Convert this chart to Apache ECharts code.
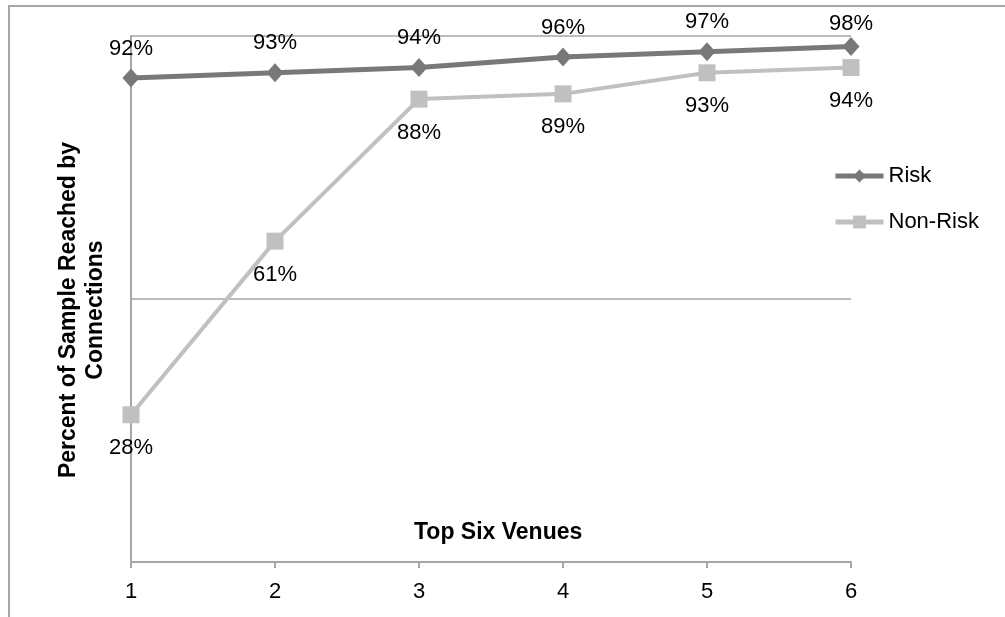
<!DOCTYPE html>
<html>
<head>
<meta charset="utf-8">
<script src="https://cdn.jsdelivr.net/npm/echarts@6/dist/echarts.min.js"></script>
<style>html,body{margin:0;padding:0;background:#fff}#c{width:1005px;height:617px}</style>
</head>
<body>
<div id="c"></div>
<script>
const categories = ['1', '2', '3', '4', '5', '6'];
const riskValues = [92, 93, 94, 96, 97, 98];
const nonRiskValues = [28, 61, 88, 89, 93, 94];
const seriesNames = ['Risk', 'Non-Risk'];
const xTitle = 'Top Six Venues';
const yTitle = 'Percent of Sample Reached by\nConnections';

const FONT = '"Liberation Sans", Arial, sans-serif';
const chart = echarts.init(document.getElementById('c'), null, {renderer: 'canvas'});

const riskData = riskValues.map((v, i) => i === riskValues.length - 1
  ? {value: v, label: {distance: 2}} : v);

chart.setOption({
  animation: false,
  backgroundColor: '#fff',
  grid: {left: 131, right: 154, top: 36, bottom: 55},
  legend: {
    orient: 'vertical',
    left: 833, top: 165, padding: 0,
    itemWidth: 48, itemHeight: 16, itemGap: 24,
    textStyle: {fontFamily: FONT, fontSize: 22, color: '#000'},
    lineStyle: {width: 5},
    data: [
      {name: seriesNames[0], lineStyle: {width: 5, color: '#787878'}},
      {name: seriesNames[1], lineStyle: {width: 5, color: '#c0c0c0'}}
    ]
  },
  xAxis: {
    type: 'category', data: categories, boundaryGap: false,
    axisLine: {lineStyle: {color: '#a6a6a6', width: 2}},
    axisTick: {show: true, length: 6, lineStyle: {color: '#a6a6a6', width: 2}},
    axisLabel: {fontFamily: FONT, fontSize: 22, color: '#000', margin: 19},
    splitLine: {show: false}
  },
  yAxis: {
    type: 'value', min: 0, max: 100, interval: 50,
    axisLine: {show: true, lineStyle: {color: '#a6a6a6', width: 2}},
    axisTick: {show: false},
    axisLabel: {show: false},
    splitLine: {show: true, lineStyle: {color: '#a6a6a6', width: 1.5}}
  },
  graphic: [
    {type: 'rect', shape: {x: 9, y: 6, width: 1100, height: 700}, style: {fill: 'none', stroke: '#a6a6a6', lineWidth: 2}, silent: true},
    {type: 'text', left: 414, top: 521, style: {text: xTitle, font: 'bold 23px ' + FONT, fill: '#000'}},
    {type: 'text', x: 82, y: 310, rotation: Math.PI / 2,
     style: {text: yTitle, font: 'bold 23px ' + FONT, fill: '#000', align: 'center', verticalAlign: 'middle', lineHeight: 27}}
  ],
  series: [
    {
      name: seriesNames[0], type: 'line', data: riskData,
      symbol: 'diamond', symbolSize: [17, 19],
      lineStyle: {color: '#787878', width: 5},
      itemStyle: {color: '#787878'},
      label: {show: true, position: 'top', distance: 9, formatter: '{c}%', fontFamily: FONT, fontSize: 22, color: '#000'},
      z: 3
    },
    {
      name: seriesNames[1], type: 'line', data: nonRiskValues,
      symbol: 'rect', symbolSize: 17,
      lineStyle: {color: '#c0c0c0', width: 4},
      itemStyle: {color: '#c0c0c0'},
      label: {show: true, position: 'bottom', distance: 14, formatter: '{c}%', fontFamily: FONT, fontSize: 22, color: '#000'},
      z: 2
    }
  ]
});
</script>
</body>
</html>
